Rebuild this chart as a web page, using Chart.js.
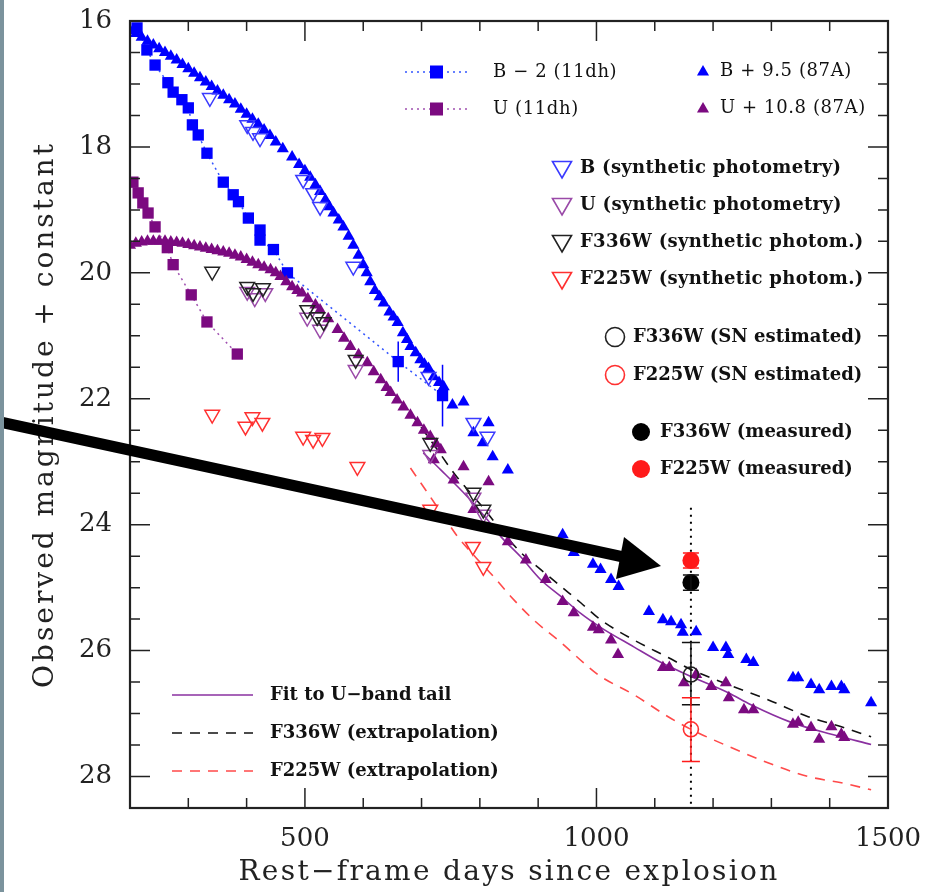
<!DOCTYPE html>
<html>
<head>
<meta charset="utf-8">
<script src="https://cdn.jsdelivr.net/npm/chart.js@4.4.0/dist/chart.umd.min.js"></script>
<style>
html, body { margin: 0; padding: 0; background: #fff; }
#wrap { position: relative; width: 930px; height: 892px; }
#strip { position: absolute; left: 0; top: 0; width: 4px; height: 892px; background: #7b939d; }
</style>
</head>
<body>
<div id="wrap"><canvas id="lc" width="930" height="892"></canvas><div id="strip"></div></div>
<script>
// SN 2011dh, B - 2 and U
var b11dhDays = [212,229,243,265,274,289,300,307,317,332,360,377,386,403,423,423,446,470,660,736];
var b11dhMag  = [16.11,16.46,16.70,16.98,17.13,17.25,17.38,17.65,17.81,18.10,18.56,18.76,18.87,19.13,19.32,19.48,19.63,20.00,21.41,21.95];
var b11dhErr  = [0,0,0,0,0,0,0,0,0,0,0,0,0,0,0,0,0,0,0.32,0.49];
var u11dhDays = [205,214,222,231,243,264,274,305,332,384];
var u11dhMag  = [18.56,18.73,18.89,19.05,19.27,19.60,19.87,20.35,20.78,21.29];

// SN 1987A, B + 9.5
var b87Days = [200,210,220,230,240,250,260,270,280,290,300,310,320,330,340,350,360,370,380,390,400,410,420,430,440,450,462,478,490,500,509,518,526,535,542,549,558,566,575,583,592,600,606,612,620,628,635,645,652,659,668,675,681,690,698,705,712,721,730,738,753,772,789,805,815,822,848,
  942,961,994,1007,1025,1038,1090,1114,1128,1145,1148,1171,1200,1222,1226,1257,1269,1337,1346,1368,1382,1403,1420,1425,1471];
var b87Mag  = [16.15,16.20,16.26,16.32,16.38,16.44,16.50,16.56,16.62,16.69,16.76,16.83,16.90,16.97,17.04,17.11,17.18,17.25,17.32,17.40,17.48,17.56,17.64,17.73,17.82,17.92,18.03,18.16,18.28,18.38,18.48,18.60,18.71,18.84,18.95,19.05,19.16,19.27,19.42,19.56,19.72,19.87,20.00,20.14,20.28,20.38,20.48,20.62,20.70,20.79,20.95,21.06,21.17,21.27,21.38,21.45,21.52,21.65,21.74,21.81,22.10,22.05,22.54,22.70,22.38,22.92,23.13,
  24.16,24.44,24.63,24.71,24.87,24.98,25.38,25.51,25.54,25.59,25.71,25.70,25.95,25.95,26.06,26.14,26.19,26.43,26.43,26.54,26.62,26.57,26.57,26.62,26.83];

// SN 1987A, U + 10.8
var u87Days = [200,210,220,230,240,250,260,270,280,290,300,310,320,330,340,350,360,370,380,390,400,410,420,430,441,450,458,468,478,487,495,505,518,526,540,556,567,578,592,607,618,630,640,647,658,669,681,693,704,715,725,733,721,772,755,815,789,848,879,913,
  942,961,994,1004,1025,1037,1114,1125,1150,1171,1197,1222,1227,1253,1269,1337,1346,1368,1382,1403,1420,1425];
var u87Mag  = [19.56,19.53,19.51,19.50,19.50,19.50,19.50,19.51,19.52,19.53,19.55,19.57,19.59,19.61,19.63,19.65,19.67,19.69,19.72,19.75,19.79,19.83,19.87,19.91,19.95,20.00,20.06,20.14,20.22,20.28,20.32,20.41,20.51,20.59,20.73,20.90,21.04,21.17,21.30,21.43,21.57,21.70,21.82,21.90,22.02,22.13,22.26,22.38,22.50,22.60,22.72,22.81,22.97,23.08,23.29,23.32,23.76,24.27,24.56,24.87,
  25.22,25.40,25.63,25.67,25.83,26.06,26.27,26.27,26.51,26.38,26.57,26.51,26.75,26.94,26.94,27.17,27.14,27.22,27.41,27.21,27.33,27.38];

// synthetic photometry
var bSynDays = [337,401,411,423,497,514,526,583,712,789,813];
var bSynMag  = [17.22,17.65,17.76,17.86,18.52,18.73,18.95,19.90,21.65,22.38,22.60];
var uSynDays = [401,414,432,504,526,587,715,789,806];
var uSynMag  = [20.30,20.40,20.32,20.71,20.90,21.54,22.89,23.57,23.84];
var f336SynDays = [341,401,411,428,504,521,532,587,715,789,806];
var f336SynMag  = [19.98,20.22,20.32,20.24,20.59,20.70,20.78,21.38,22.70,23.49,23.76];
var f225SynDays = [341,398,410,427,497,514,530,590,715,788,806];
var f225SynMag  = [22.25,22.44,22.29,22.38,22.60,22.65,22.62,23.08,23.76,24.35,24.67];

// fit and extrapolations
var fitUDays = [703,733,779,813,836,870,904,939,973,1007,1064,1111,1162,1226,1265,1334,1403,1471];
var fitUMag  = [22.86,23.13,23.56,23.92,24.19,24.51,24.87,25.14,25.41,25.63,25.94,26.19,26.41,26.67,26.86,27.14,27.33,27.49];
var ext336Days = [681,721,758,801,836,870,904,939,973,1007,1064,1123,1162,1226,1294,1363,1420,1471];
var ext336Mag  = [22.22,22.73,23.21,23.68,24.08,24.44,24.71,24.98,25.24,25.51,25.83,26.11,26.30,26.54,26.78,27.05,27.21,27.37];
var ext225Days = [681,710,738,762,793,824,853,892,939,985,1007,1064,1123,1162,1226,1294,1363,1420,1471];
var ext225Mag  = [23.10,23.49,23.87,24.19,24.52,24.83,25.14,25.51,25.87,26.25,26.41,26.70,27.05,27.25,27.52,27.78,28.00,28.10,28.21];

// HST epoch: SN estimated and measured
var hstDay = 1162;
var dottedTop = 23.73;
var est336 = 26.38, est336Lo = 25.87, est336Hi = 26.86;
var est225 = 27.25, est225Lo = 26.75, est225Hi = 27.76;
var meas336 = 24.92, meas225 = 24.57, measErr = 0.12;

var xTickVals = [500, 1000, 1500];
var yTickVals = [16, 18, 20, 22, 24, 26, 28];

var blue = '#0000ff', purple = '#7b0a80', red = '#ff1a1a';

function pts(xs, ys) { return xs.map(function (v, i) { return {x: v, y: ys[i]}; }); }

function tri(ctx, x, y, r, down, fill, stroke) {
  var s = down ? -1 : 1;
  ctx.beginPath();
  ctx.moveTo(x, y - s * r);
  ctx.lineTo(x + r * 0.866, y + s * r * 0.5);
  ctx.lineTo(x - r * 0.866, y + s * r * 0.5);
  ctx.closePath();
  if (fill) { ctx.fillStyle = fill; ctx.fill(); }
  if (stroke) { ctx.strokeStyle = stroke; ctx.lineWidth = 1.6; ctx.stroke(); }
}

function vbar(ctx, x, y1, y2, cap, color) {
  ctx.strokeStyle = color;
  ctx.lineWidth = 1.5;
  ctx.beginPath();
  ctx.moveTo(x, y1); ctx.lineTo(x, y2);
  ctx.moveTo(x - cap, y1); ctx.lineTo(x + cap, y1);
  ctx.moveTo(x - cap, y2); ctx.lineTo(x + cap, y2);
  ctx.stroke();
}

var decor = {
  id: 'decor',
  beforeDatasetsDraw: function (chart) {
    var ctx = chart.ctx, x = chart.scales.x, y = chart.scales.y;
    var px = x.getPixelForValue(hstDay);
    ctx.save();
    ctx.strokeStyle = '#000';
    ctx.lineWidth = 2;
    ctx.setLineDash([2, 5]);
    ctx.beginPath();
    ctx.moveTo(px, y.getPixelForValue(dottedTop));
    ctx.lineTo(px, y.getPixelForValue(28.5));
    ctx.stroke();
    ctx.restore();
  },
  afterDatasetsDraw: function (chart) {
    var ctx = chart.ctx, x = chart.scales.x, y = chart.scales.y;
    ctx.save();
    b11dhDays.forEach(function (d, i) {
      if (b11dhErr[i] > 0) {
        var px = x.getPixelForValue(d);
        ctx.strokeStyle = blue; ctx.lineWidth = 1.5;
        ctx.beginPath();
        ctx.moveTo(px, y.getPixelForValue(b11dhMag[i] - b11dhErr[i]));
        ctx.lineTo(px, y.getPixelForValue(b11dhMag[i] + b11dhErr[i]));
        ctx.stroke();
      }
    });
    var hx = x.getPixelForValue(hstDay);
    vbar(ctx, hx, y.getPixelForValue(est336Lo), y.getPixelForValue(est336Hi), 9, '#111');
    vbar(ctx, hx, y.getPixelForValue(est225Lo), y.getPixelForValue(est225Hi), 9, red);
    vbar(ctx, hx, y.getPixelForValue(meas336 - measErr), y.getPixelForValue(meas336 + measErr), 8, '#111');
    vbar(ctx, hx, y.getPixelForValue(meas225 - measErr), y.getPixelForValue(meas225 + measErr), 8, red);
    ctx.restore();
  },
  afterDraw: function (chart) {
    var ctx = chart.ctx, x = chart.scales.x, y = chart.scales.y, a = chart.chartArea;
    ctx.save();
    // ticks on all four sides, pointing inward
    ctx.strokeStyle = '#222';
    ctx.lineWidth = 1.5;
    ctx.beginPath();
    for (var d = 200; d <= 1500; d += 100) {
      var px = x.getPixelForValue(d), len = (d % 500 === 0) ? 20 : 10;
      ctx.moveTo(px, a.bottom); ctx.lineTo(px, a.bottom - len);
      ctx.moveTo(px, a.top); ctx.lineTo(px, a.top + len);
    }
    for (var m = 16; m <= 28.5; m += 0.5) {
      var py = y.getPixelForValue(m), l2 = (m % 2 === 0) ? 20 : 10;
      ctx.moveTo(a.left, py); ctx.lineTo(a.left + l2, py);
      ctx.moveTo(a.right, py); ctx.lineTo(a.right - l2, py);
    }
    ctx.stroke();
    ctx.lineWidth = 2.2;
    ctx.strokeRect(a.left, a.top, a.right - a.left, a.bottom - a.top);

    // axis titles
    ctx.fillStyle = '#222';
    ctx.font = '28px "DejaVu Serif"';
    ctx.textAlign = 'center';
    ctx.textBaseline = 'middle';
    ctx.letterSpacing = '2.3px';
    ctx.fillText('Rest\u2212frame days since explosion', (a.left + a.right) / 2, 873);
    ctx.save();
    ctx.letterSpacing = '3px';
    ctx.translate(46, (a.top + a.bottom) / 2);
    ctx.rotate(-Math.PI / 2);
    ctx.fillText('Observed magnitude + constant', 0, 0);
    ctx.restore();

    // legend
    ctx.textAlign = 'left';
    ctx.fillStyle = '#111';
    ctx.letterSpacing = '0.6px';
    ctx.font = '18px "DejaVu Serif"';
    [[72, blue, '#3355ff', 'B \u2212 2 (11dh)'], [109, purple, '#a050b0', 'U (11dh)']].forEach(function (r) {
      ctx.save();
      ctx.strokeStyle = r[2]; ctx.lineWidth = 1.5; ctx.setLineDash([2, 4]);
      ctx.beginPath(); ctx.moveTo(405, r[0]); ctx.lineTo(470, r[0]); ctx.stroke();
      ctx.restore();
      ctx.fillStyle = r[1]; ctx.fillRect(430, r[0] - 6.5, 13, 13);
      ctx.fillStyle = '#111'; ctx.fillText(r[3], 493, r[0]);
    });
    [[71, blue, 'B + 9.5 (87A)'], [108, purple, 'U + 10.8 (87A)']].forEach(function (r) {
      tri(ctx, 703, r[0] + 1, 7, false, r[1], null);
      ctx.fillStyle = '#111'; ctx.fillText(r[2], 720, r[0]);
    });
    ctx.letterSpacing = '0.3px';
    ctx.font = 'bold 18px "DejaVu Serif"';
    [[168, '#3a3aff', 'B (synthetic photometry)'], [205, '#9a4aa8', 'U (synthetic photometry)'],
     [242, '#222', 'F336W (synthetic photom.)'], [279, '#ff3030', 'F225W (synthetic photom.)']].forEach(function (r) {
      tri(ctx, 562, r[0] - 1, 11, true, null, r[1]);
      ctx.fillStyle = '#111'; ctx.fillText(r[2], 580, r[0]);
    });
    ctx.letterSpacing = '0px';
    [[337, '#222', 'F336W (SN estimated)'], [375, '#ff3030', 'F225W (SN estimated)']].forEach(function (r) {
      ctx.beginPath(); ctx.arc(615, r[0], 9.5, 0, Math.PI * 2);
      ctx.strokeStyle = r[1]; ctx.lineWidth = 1.6; ctx.stroke();
      ctx.fillStyle = '#111'; ctx.fillText(r[2], 633, r[0]);
    });
    [[432, '#000', 'F336W (measured)'], [469, red, 'F225W (measured)']].forEach(function (r) {
      ctx.beginPath(); ctx.arc(641, r[0], 9, 0, Math.PI * 2);
      ctx.fillStyle = r[1]; ctx.fill();
      ctx.fillStyle = '#111'; ctx.fillText(r[2], 660, r[0]);
    });
    [[695, '#8a30a0', [], 'Fit to U\u2212band tail'], [733, '#111', [10, 8], 'F336W (extrapolation)'],
     [771, '#ff4a4a', [10, 8], 'F225W (extrapolation)']].forEach(function (r) {
      ctx.save();
      ctx.strokeStyle = r[1]; ctx.lineWidth = 1.5; ctx.setLineDash(r[2]);
      ctx.beginPath(); ctx.moveTo(172, r[0]); ctx.lineTo(253, r[0]); ctx.stroke();
      ctx.restore();
      ctx.fillStyle = '#111'; ctx.fillText(r[3], 270, r[0]);
    });

    // annotation arrow
    ctx.fillStyle = '#000';
    ctx.strokeStyle = '#000';
    ctx.lineWidth = 11;
    ctx.beginPath(); ctx.moveTo(0, 422); ctx.lineTo(628, 558); ctx.stroke();
    ctx.beginPath();
    ctx.moveTo(661, 566); ctx.lineTo(624, 537); ctx.lineTo(616, 579); ctx.closePath();
    ctx.fill();
    ctx.restore();
  }
};

var tickFont = {family: 'DejaVu Serif', size: 26};

// keep the plot box fixed: no extra room for the edge tick labels
function noPad(s) {
  s.paddingLeft = 0; s.paddingRight = 0; s.paddingTop = 0; s.paddingBottom = 0;
}

new Chart('lc', {
  type: 'scatter',
  data: {
    datasets: [
      {label: 'F225W measured', data: [{x: hstDay, y: meas225}], pointStyle: 'circle', pointRadius: 8.5, backgroundColor: red, borderWidth: 0, order: 0},
      {label: 'F336W measured', data: [{x: hstDay, y: meas336}], pointStyle: 'circle', pointRadius: 8.5, backgroundColor: '#000', borderWidth: 0, order: 0},
      {label: 'F336W estimated', data: [{x: hstDay, y: est336}], pointStyle: 'circle', pointRadius: 7.5, backgroundColor: 'rgba(0,0,0,0)', borderColor: '#222', borderWidth: 1.6, order: 1},
      {label: 'F225W estimated', data: [{x: hstDay, y: est225}], pointStyle: 'circle', pointRadius: 7.5, backgroundColor: 'rgba(0,0,0,0)', borderColor: '#ff3030', borderWidth: 1.6, order: 1},
      {label: 'F225W synth', data: pts(f225SynDays, f225SynMag), pointStyle: 'triangle', pointRotation: 180, pointRadius: 8.5, backgroundColor: 'rgba(0,0,0,0)', borderColor: '#ff3030', borderWidth: 1.5, order: 2},
      {label: 'F336W synth', data: pts(f336SynDays, f336SynMag), pointStyle: 'triangle', pointRotation: 180, pointRadius: 8.5, backgroundColor: 'rgba(0,0,0,0)', borderColor: '#222', borderWidth: 1.5, order: 3},
      {label: 'U synth', data: pts(uSynDays, uSynMag), pointStyle: 'triangle', pointRotation: 180, pointRadius: 8.5, backgroundColor: 'rgba(0,0,0,0)', borderColor: '#9a4aa8', borderWidth: 1.5, order: 4},
      {label: 'B synth', data: pts(bSynDays, bSynMag), pointStyle: 'triangle', pointRotation: 180, pointRadius: 8.5, backgroundColor: 'rgba(0,0,0,0)', borderColor: '#3a3aff', borderWidth: 1.5, order: 5},
      {label: 'B + 9.5 (87A)', data: pts(b87Days, b87Mag), pointStyle: 'triangle', pointRadius: 7, backgroundColor: blue, borderColor: blue, borderWidth: 0, order: 6},
      {label: 'U + 10.8 (87A)', data: pts(u87Days, u87Mag), pointStyle: 'triangle', pointRadius: 7, backgroundColor: purple, borderColor: purple, borderWidth: 0, order: 7},
      {label: 'B - 2 (11dh)', data: pts(b11dhDays, b11dhMag), showLine: true, borderDash: [2, 4], borderWidth: 1.5, borderColor: '#3355ff', pointStyle: 'rect', pointRadius: 8, pointBackgroundColor: blue, pointBorderWidth: 0, order: 8},
      {label: 'U (11dh)', data: pts(u11dhDays, u11dhMag), showLine: true, borderDash: [2, 4], borderWidth: 1.5, borderColor: '#a050b0', pointStyle: 'rect', pointRadius: 8, pointBackgroundColor: purple, pointBorderWidth: 0, order: 9},
      {label: 'Fit to U-band tail', data: pts(fitUDays, fitUMag), showLine: true, pointRadius: 0, borderColor: '#8a30a0', borderWidth: 1.6, cubicInterpolationMode: 'monotone', order: 10},
      {label: 'F336W extrapolation', data: pts(ext336Days, ext336Mag), showLine: true, pointRadius: 0, borderColor: '#111', borderWidth: 1.6, borderDash: [10, 8], cubicInterpolationMode: 'monotone', order: 11},
      {label: 'F225W extrapolation', data: pts(ext225Days, ext225Mag), showLine: true, pointRadius: 0, borderColor: '#ff4a4a', borderWidth: 1.6, borderDash: [10, 8], cubicInterpolationMode: 'monotone', order: 12}
    ]
  },
  options: {
    responsive: false,
    animation: false,
    layout: {padding: {top: 21, right: 42, left: 0, bottom: 0}},
    plugins: {legend: {display: false}, tooltip: {enabled: false}},
    scales: {
      x: {
        type: 'linear', min: 200, max: 1500,
        afterFit: function (s) { s.height = 84; noPad(s); },
        afterBuildTicks: function (s) { s.ticks = xTickVals.map(function (v) { return {value: v}; }); },
        grid: {display: false, drawTicks: false},
        border: {display: false},
        ticks: {font: tickFont, color: '#222', padding: 16, maxRotation: 0, autoSkip: false, callback: function (v) { return String(v); }}
      },
      y: {
        type: 'linear', min: 16, max: 28.5, reverse: true,
        afterFit: function (s) { s.width = 130; noPad(s); },
        afterBuildTicks: function (s) { s.ticks = yTickVals.map(function (v) { return {value: v}; }); },
        grid: {display: false, drawTicks: false},
        border: {display: false},
        ticks: {font: tickFont, color: '#222', padding: 18, autoSkip: false, callback: function (v) { return String(v); }}
      }
    }
  },
  plugins: [decor]
});
</script>
</body>
</html>
